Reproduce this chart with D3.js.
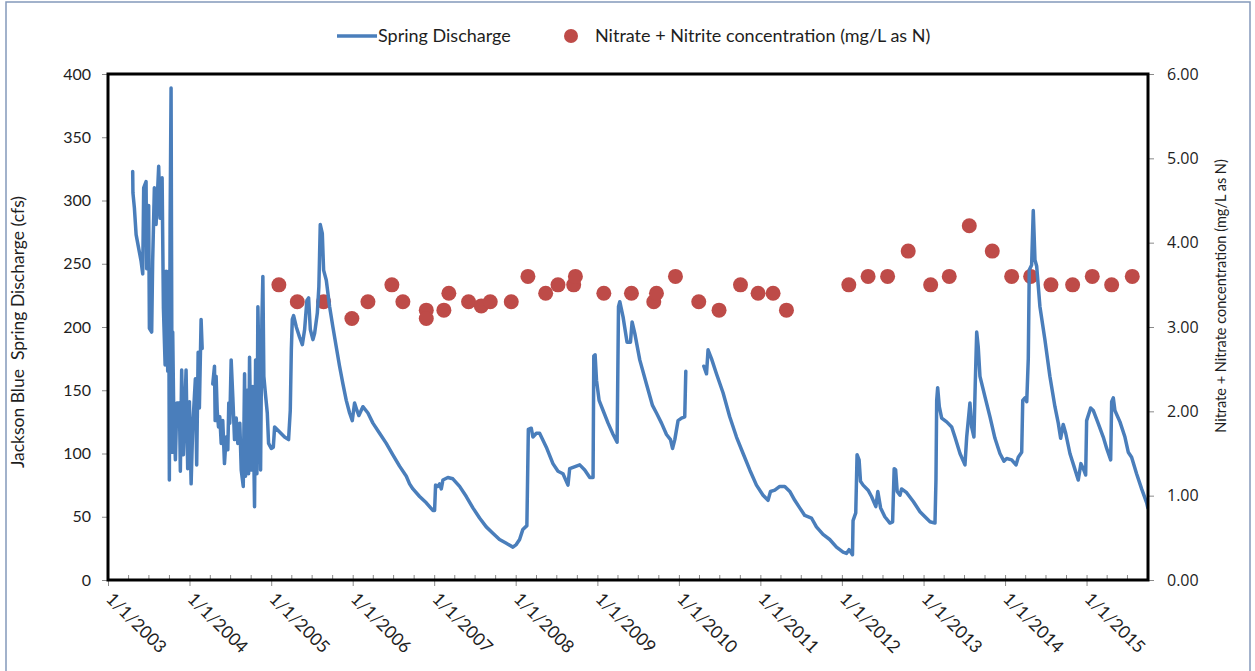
<!DOCTYPE html>
<html>
<head>
<meta charset="utf-8">
<script src="https://cdn.jsdelivr.net/npm/d3@7"></script>
<style>
  body { margin: 0; background: #fff; }
  svg { display: block; font-family: Lato, "Open Sans", sans-serif; }
</style>
</head>
<body>
<svg id="chart"></svg>
<script>
// tick values
const yearTicks = [2003, 2004, 2005, 2006, 2007, 2008, 2009, 2010, 2011, 2012, 2013, 2014, 2015];
const cfsTicks = [0, 50, 100, 150, 200, 250, 300, 350, 400];
const nitrateTicks = [0, 1, 2, 3, 4, 5, 6];

// nitrate + nitrite samples (decimal year, mg/L as N)
const nitrateYear = [2005.094, 2005.320, 2005.643, 2005.990, 2006.187, 2006.481, 2006.616, 2006.903, 2006.903, 2007.119,
  2007.180, 2007.422, 2007.578, 2007.688, 2007.946, 2008.150, 2008.367, 2008.518, 2008.710, 2008.731,
  2009.079, 2009.418, 2009.692, 2009.725, 2009.958, 2010.244, 2010.493, 2010.756, 2010.972, 2011.156,
  2011.320, 2012.085, 2012.321, 2012.560, 2012.812, 2013.087, 2013.315, 2013.561, 2013.843, 2014.081,
  2014.314, 2014.563, 2014.829, 2015.070, 2015.308, 2015.561];
const nitrateMgL = [3.5, 3.3, 3.3, 3.1, 3.3, 3.5, 3.3, 3.2, 3.1, 3.2,
  3.4, 3.3, 3.25, 3.3, 3.3, 3.6, 3.4, 3.5, 3.5, 3.6,
  3.4, 3.4, 3.3, 3.4, 3.6, 3.3, 3.2, 3.5, 3.4, 3.4,
  3.2, 3.5, 3.6, 3.6, 3.9, 3.5, 3.6, 4.2, 3.9, 3.6,
  3.6, 3.5, 3.5, 3.6, 3.5, 3.6];

// spring discharge (decimal year, cfs); null = no record
const discharge = [
  [2003.303,323],[2003.306,306],[2003.324,294],[2003.345,273],[2003.377,262],[2003.406,252],[2003.426,242],
  [2003.438,310],[2003.467,315],[2003.475,246],[2003.499,296],[2003.508,199],[2003.536,196],[2003.548,252],
  [2003.569,310],[2003.590,281],[2003.622,327],[2003.639,286],[2003.664,318],[2003.680,215],[2003.701,170],
  [2003.713,244],[2003.733,165],[2003.745,244],[2003.753,79],[2003.762,281],[2003.774,389],[2003.787,101],
  [2003.794,196],[2003.806,136],[2003.827,95],[2003.845,140],[2003.876,140],[2003.888,86],[2003.904,166],
  [2003.925,99],[2003.958,166],[2003.978,88],[2003.999,141],[2004.020,76],[2004.039,120],[2004.072,159],
  [2004.088,91],[2004.106,180],[2004.121,136],[2004.142,206],[2004.155,183],
  [2004.220,null],
  [2004.285,155],[2004.306,169],[2004.314,126],[2004.326,161],[2004.339,134],[2004.355,121],[2004.371,129],
  [2004.388,108],[2004.407,126],[2004.428,92],[2004.449,113],[2004.469,103],[2004.481,140],[2004.493,124],
  [2004.510,174],[2004.530,145],[2004.551,111],[2004.572,128],[2004.591,108],[2004.616,124],[2004.633,87],
  [2004.658,74],[2004.674,163],[2004.686,82],[2004.707,150],[2004.723,84],[2004.735,176],[2004.756,87],
  [2004.775,153],[2004.796,58],[2004.809,174],[2004.825,84],[2004.837,216],[2004.849,174],[2004.870,87],
  [2004.886,206],[2004.898,240],[2004.910,161],[2004.928,148],[2004.952,132],[2004.968,108],[2005.001,104],
  [2005.026,105],[2005.042,121],[2005.103,117],[2005.164,113],[2005.213,111],[2005.234,134],[2005.247,182],
  [2005.259,206],[2005.275,209],[2005.308,200],[2005.348,192],[2005.382,186],[2005.410,198],[2005.438,221],
  [2005.459,223],[2005.480,198],[2005.512,190],[2005.533,195],[2005.566,211],[2005.585,232],[2005.602,281],
  [2005.627,274],[2005.643,245],[2005.676,237],[2005.717,216],[2005.757,200],[2005.799,184],[2005.839,169],
  [2005.880,155],[2005.921,142],[2005.962,132],[2005.995,126],[2006.023,140],[2006.052,134],[2006.076,130],
  [2006.125,137],[2006.187,132],[2006.248,124],[2006.330,116],[2006.412,108],[2006.493,99],[2006.575,90],
  [2006.658,82],[2006.698,76],[2006.739,72],[2006.821,66],[2006.903,61],[2006.984,55],[2007.005,55],
  [2007.017,75],[2007.045,74],[2007.066,76],[2007.087,72],[2007.107,79],[2007.168,81],[2007.229,80],
  [2007.312,74],[2007.394,66],[2007.475,57],[2007.557,49],[2007.639,42],[2007.720,37],[2007.802,32],
  [2007.885,29],[2007.966,26],[2008.007,28],[2008.048,32],[2008.088,40],[2008.137,43],[2008.155,119],
  [2008.191,120],[2008.211,113],[2008.253,116],[2008.293,116],[2008.375,105],[2008.456,92],[2008.518,86],
  [2008.579,84],[2008.640,75],[2008.661,88],[2008.743,90],[2008.784,91],[2008.845,87],[2008.907,81],
  [2008.947,81],[2008.956,177],[2008.972,178],[2008.989,158],[2009.021,142],[2009.070,134],[2009.131,124],
  [2009.193,115],[2009.242,109],[2009.259,216],[2009.275,220],[2009.315,208],[2009.364,188],[2009.406,188],
  [2009.426,204],[2009.459,195],[2009.520,174],[2009.602,155],[2009.676,138],[2009.725,132],[2009.787,124],
  [2009.848,115],[2009.897,111],[2009.922,104],[2009.950,111],[2009.990,126],[2010.032,128],[2010.072,129],
  [2010.085,165],
  [2010.200,null],
  [2010.306,169],[2010.339,163],[2010.358,182],[2010.400,175],[2010.461,163],[2010.542,148],[2010.624,129],
  [2010.707,113],[2010.788,100],[2010.870,87],[2010.952,75],[2011.033,67],[2011.094,63],[2011.124,70],
  [2011.177,71],[2011.238,74],[2011.299,74],[2011.361,70],[2011.422,63],[2011.483,57],[2011.545,51],
  [2011.627,49],[2011.688,42],[2011.769,36],[2011.851,32],[2011.934,26],[2012.015,22],[2012.056,21],
  [2012.088,24],[2012.130,20],[2012.137,47],[2012.170,53],[2012.186,99],[2012.211,95],[2012.228,78],
  [2012.260,75],[2012.321,71],[2012.363,66],[2012.416,58],[2012.440,70],[2012.474,57],[2012.526,50],
  [2012.588,45],[2012.621,46],[2012.640,88],[2012.658,87],[2012.677,70],[2012.711,67],[2012.731,72],
  [2012.793,69],[2012.874,62],[2012.956,54],[2013.017,50],[2013.079,46],[2013.140,45],[2013.152,79],
  [2013.161,142],[2013.173,152],[2013.193,137],[2013.222,128],[2013.283,125],[2013.345,121],[2013.385,113],
  [2013.447,100],[2013.508,91],[2013.529,113],[2013.569,140],[2013.590,121],[2013.618,113],[2013.634,155],
  [2013.652,196],[2013.671,184],[2013.692,161],[2013.753,145],[2013.815,129],[2013.876,112],[2013.937,100],
  [2013.986,94],[2014.020,96],[2014.081,95],[2014.134,91],[2014.162,97],[2014.204,101],[2014.217,142],
  [2014.244,144],[2014.266,141],[2014.285,175],[2014.297,245],[2014.326,249],[2014.346,292],[2014.367,253],
  [2014.388,248],[2014.428,216],[2014.489,190],[2014.550,161],[2014.612,137],[2014.653,124],[2014.682,112],
  [2014.714,123],[2014.744,116],[2014.796,100],[2014.845,90],[2014.898,79],[2014.931,92],[2014.960,88],
  [2014.989,83],[2015.001,126],[2015.050,136],[2015.082,134],[2015.136,125],[2015.205,113],[2015.247,104],
  [2015.296,95],[2015.308,141],[2015.328,144],[2015.348,134],[2015.410,125],[2015.471,113],[2015.512,101],
  [2015.553,97],[2015.614,84],[2015.676,72],[2015.738,61],[2015.752,57]
];

// decimal year -> UTC date
const toDate = v => {
  const y = Math.floor(v), a = Date.UTC(y, 0, 1), b = Date.UTC(y + 1, 0, 1);
  return new Date(a + (v - y) * (b - a));
};

const width = 1255, height = 671;
const plot = {left: 108, right: 1148, top: 74, bottom: 580};
const blue = '#4a7ebb', red = '#be4b48', ink = '#1e1e1e';

const svg = d3.select('#chart').attr('width', width).attr('height', height);

// outer chart border
svg.append('rect')
  .attr('x', 6).attr('y', 2).attr('width', 1244).attr('height', 720)
  .attr('fill', 'none').attr('stroke', '#8499bb').attr('stroke-width', 1.5);

const x = d3.scaleUtc()
  .domain([toDate(2003), toDate(2015.754)])
  .range([plot.left, plot.right]);
const yL = d3.scaleLinear().domain([0, 400]).range([plot.bottom, plot.top]);
const yR = d3.scaleLinear().domain([0, 6]).range([plot.bottom, plot.top]);

// left axis
const gL = svg.append('g')
  .attr('transform', `translate(${plot.left},0)`)
  .call(d3.axisLeft(yL).tickValues(cfsTicks).tickSize(6).tickPadding(11));
// right axis
const gR = svg.append('g')
  .attr('transform', `translate(${plot.right},0)`)
  .call(d3.axisRight(yR).tickValues(nitrateTicks).tickSize(6).tickPadding(13)
    .tickFormat(d3.format('.2f')));
// bottom axis: quarterly minor ticks inside, yearly major ticks outside
const gMinor = svg.append('g')
  .attr('transform', `translate(0,${plot.bottom})`)
  .call(d3.axisBottom(x).tickValues(d3.utcMonth.every(3).range(toDate(2003), toDate(2015.754)))
    .tickSize(-5).tickFormat(''));
const gB = svg.append('g')
  .attr('transform', `translate(0,${plot.bottom})`)
  .call(d3.axisBottom(x).tickValues(yearTicks.map(toDate)).tickSize(6).tickFormat(''));

[gL, gR, gMinor, gB].forEach(g => {
  g.select('.domain').remove();
  g.selectAll('.tick line').attr('stroke', '#8a8a8a');
  g.selectAll('text').attr('fill', ink).style('font-size', '16px')
    .style('font-family', 'Lato, sans-serif');
});
gR.selectAll('text').style('font-family', '"Open Sans", sans-serif').style('font-size', '16px');

svg.append('g').selectAll('text')
  .data(yearTicks)
  .join('text')
  .attr('transform', d => `translate(${x(toDate(d)) - 3},${plot.bottom + 20}) rotate(45)`)
  .attr('fill', ink)
  .style('font-size', '17.5px')
  .text(d => `1/1/${d}`);

// clip for series
svg.append('clipPath').attr('id', 'clip')
  .append('rect')
  .attr('x', plot.left).attr('y', plot.top)
  .attr('width', plot.right - plot.left).attr('height', plot.bottom - plot.top);

const series = svg.append('g').attr('clip-path', 'url(#clip)');

series.selectAll('circle')
  .data(nitrateYear.map((d, i) => [d, nitrateMgL[i]]))
  .join('circle')
  .attr('cx', d => x(toDate(d[0])))
  .attr('cy', d => yR(d[1]))
  .attr('r', 7.5)
  .attr('fill', red);

const line = d3.line()
  .defined(d => d[1] != null)
  .x(d => x(toDate(d[0])))
  .y(d => yL(d[1]));

series.append('path')
  .datum(discharge)
  .attr('d', line)
  .attr('fill', 'none')
  .attr('stroke', blue)
  .attr('stroke-width', 3.5)
  .attr('stroke-linejoin', 'round')
  .attr('stroke-linecap', 'round');

// plot frame
svg.append('rect')
  .attr('x', plot.left).attr('y', plot.top)
  .attr('width', plot.right - plot.left).attr('height', plot.bottom - plot.top)
  .attr('fill', 'none').attr('stroke', '#000').attr('stroke-width', 3);

// axis titles
svg.append('text')
  .attr('transform', `translate(24,332) rotate(-90)`)
  .attr('text-anchor', 'middle')
  .attr('fill', ink)
  .style('font-size', '17.5px')
  .style('white-space', 'pre')
  .text('Jackson Blue  Spring Discharge (cfs)');

svg.append('text')
  .attr('transform', `translate(1226,296) rotate(-90)`)
  .attr('text-anchor', 'middle')
  .attr('fill', ink)
  .style('font-size', '14.5px')
  .text('Nitrate + Nitrate concentration (mg/L as N)');

// legend
const legend = svg.append('g');
legend.append('line')
  .attr('x1', 337).attr('x2', 377).attr('y1', 36).attr('y2', 36)
  .attr('stroke', blue).attr('stroke-width', 3.5);
legend.append('text')
  .attr('x', 378).attr('y', 36).attr('dy', '0.35em')
  .attr('fill', ink).style('font-size', '18px')
  .text('Spring Discharge');
legend.append('circle')
  .attr('cx', 571).attr('cy', 36).attr('r', 7)
  .attr('fill', red);
legend.append('text')
  .attr('x', 595).attr('y', 36).attr('dy', '0.35em')
  .attr('fill', ink).style('font-size', '18px')
  .text('Nitrate + Nitrite concentration (mg/L as N)');
</script>
</body>
</html>
